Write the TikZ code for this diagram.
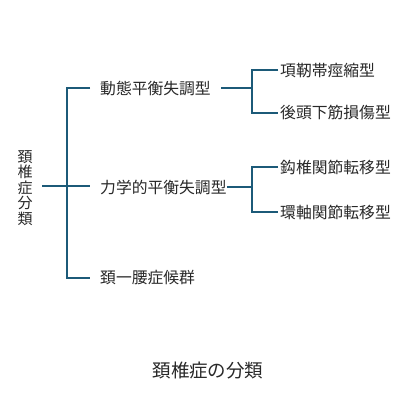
\documentclass[tikz,border=0pt]{standalone}
\usepackage{fontspec}
\setmainfont{Noto Sans CJK JP}
\begin{document}
\begin{tikzpicture}[x=1pt,y=-1pt,
  conn/.style={draw=linec,line width=2pt},
  lab/.style={text=textc,font=\fontsize{15.8}{15.8}\selectfont,inner sep=0pt,anchor=west},
]
\definecolor{linec}{RGB}{28,90,120}
\definecolor{textc}{RGB}{40,40,40}
\useasboundingbox[fill=white] (0,0) rectangle (416,416);
% root
\node[text=textc,font=\fontsize{15}{15.4}\selectfont,inner sep=0pt,align=center] (root) at (25,188) {頚\\椎\\症\\分\\類};
\coordinate (rootR) at (42,186);
\coordinate (b0) at (67,186);
\coordinate (bb) at (67,278);
% level 1
\node[lab] (a) at (100,88) {動態平衡失調型};
\node[lab] (b) at (100,187) {力学的平衡失調型};
\node[lab] (c) at (100,278) {頚一腰症候群};
\draw[conn] ([xshift=-10pt]a.west) -| (bb) -- ([xshift=-10pt]c.west);
\draw[conn] (rootR) -- (b0) -- ([xshift=-10pt]b.west |- b0);
% level 2 group A
\node[lab] (a1) at (280,70) {項靭帯痙縮型};
\node[lab] (a2) at (280,113) {後頭下筋損傷型};
\coordinate (aj) at (252,88);
\draw[conn] ([xshift=10pt]a.east) -- (aj);
\draw[conn] ([xshift=-2pt]a1.west) -| (aj |- a2) -- ([xshift=-2pt]a2.west);
% level 2 group B
\node[lab] (b1) at (280,167) {鈎椎関節転移型};
\node[lab] (b2) at (280,212) {環軸関節転移型};
\coordinate (bj) at (252,187);
\draw[conn] (b.east) -- (bj);
\draw[conn] ([xshift=-2pt]b1.west) -| (bj |- b2) -- ([xshift=-2pt]b2.west);
% title
\node[text=textc,font=\fontsize{18.5}{18.5}\selectfont,inner sep=0pt] (title) at (208,371) {頚椎症の分類};
\end{tikzpicture}
\end{document}
